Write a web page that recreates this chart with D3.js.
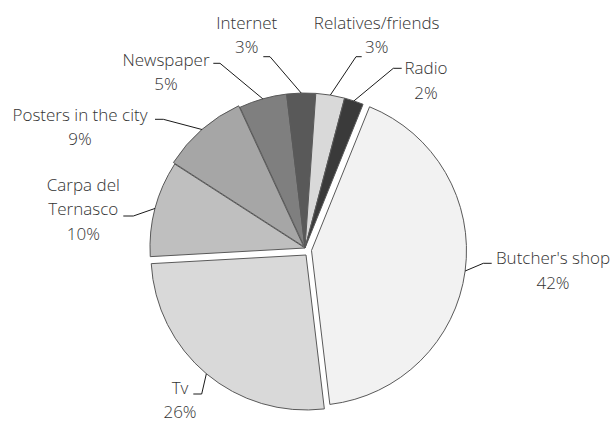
<!DOCTYPE html>
<html>
<head>
<meta charset="utf-8">
<script src="https://cdn.jsdelivr.net/npm/d3@7"></script>
<style>
  html, body { margin: 0; padding: 0; background: #fff; }
  svg { display: block; }
  text { font-family: "Open Sans", Lato, sans-serif; font-size: 17px; font-weight: 300; fill: #333333; }
</style>
</head>
<body>
<svg id="chart" width="613" height="421"></svg>
<script>
// ---- data ----
const categories = ["Butcher's shop", "Tv", "Carpa del Ternasco", "Posters in the city", "Newspaper", "Internet", "Relatives/friends", "Radio"];
const values = [42, 26, 10, 9, 5, 3, 3, 2];
const labelLines = [["Butcher's shop"], ["Tv"], ["Carpa del", "Ternasco"], ["Posters in the city"], ["Newspaper"], ["Internet"], ["Relatives/friends"], ["Radio"]];

// ---- style / layout ----
const colors = ["#f2f2f2", "#d9d9d9", "#bfbfbf", "#a6a6a6", "#7f7f7f", "#595959", "#d9d9d9", "#3a3a3a"];
const W = 613, H = 421;
const center = [305, 248];
const radius = 155;
const startDeg = 22;
// explode offsets (dx, dy) in px
const explode = [[6.5, 2.5], [1, 7], [0, 0], [-1.3, -1.5], [0, 0], [0, 0], [0, 0], [0, 0]];
// label layout relative to pie centre: text centre x, first-line y, leader y, text-side x, elbow x
const labelLayout = [
  { tx: 248, ty: 10.3, ly: 15.3, sx: 186.7, ex: 178.3 },
  { tx: -125, ty: 140, ly: 146, sx: -111.7, ex: -103.3 },
  { tx: -221.7, ty: -63, ly: -32, sx: -181.7, ex: -171.7 },
  { tx: -225, ty: -133, ly: -128.7, sx: -150, ex: -141.7 },
  { tx: -139, ty: -188, ly: -184.7, sx: -91.7, ex: -85 },
  { tx: -58.3, ty: -225.3, ly: -191.3, sx: -41.7, ex: -35 },
  { tx: 71.7, ty: -225.3, ly: -191.3, sx: 56.7, ex: 51 },
  { tx: 121, ty: -179.7, ly: -179.7, sx: 96.7, ex: 88.3 }
];
const lineH = 24.5;

const total = d3.sum(values);
const svg = d3.select("#chart");
const g = svg.append("g").attr("transform", `translate(${center[0]},${center[1]})`);

const pie = d3.pie().sort(null).value(d => d)
  .startAngle(startDeg * Math.PI / 180)
  .endAngle(startDeg * Math.PI / 180 + 2 * Math.PI);
const arcs = pie(values);
const arc = d3.arc().innerRadius(0).outerRadius(radius);

g.selectAll("path.slice").data(arcs).join("path")
  .attr("class", "slice")
  .attr("d", arc)
  .attr("transform", (d, i) => `translate(${explode[i][0]},${explode[i][1]})`)
  .attr("fill", (d, i) => colors[i])
  .attr("stroke", "#595959")
  .attr("stroke-width", 1)
  .attr("stroke-linejoin", "round");

// leader lines and labels
arcs.forEach((d, i) => {
  const a = (d.startAngle + d.endAngle) / 2;
  const ax = Math.sin(a) * radius + explode[i][0];
  const ay = -Math.cos(a) * radius + explode[i][1];
  const L = labelLayout[i];
  g.append("path")
    .attr("d", d3.line()([[ax, ay], [L.ex, L.ly], [L.sx, L.ly]]))
    .attr("fill", "none")
    .attr("stroke", "#1a1a1a")
    .attr("stroke-width", 1);
  const lines = labelLines[i].concat([Math.round(values[i] / total * 100) + "%"]);
  const t = g.append("text").attr("text-anchor", "middle");
  lines.forEach((s, k) => {
    t.append("tspan").attr("x", L.tx).attr("y", L.ty + k * lineH).attr("dy", "0.35em").text(s);
  });
});
</script>
</body>
</html>
